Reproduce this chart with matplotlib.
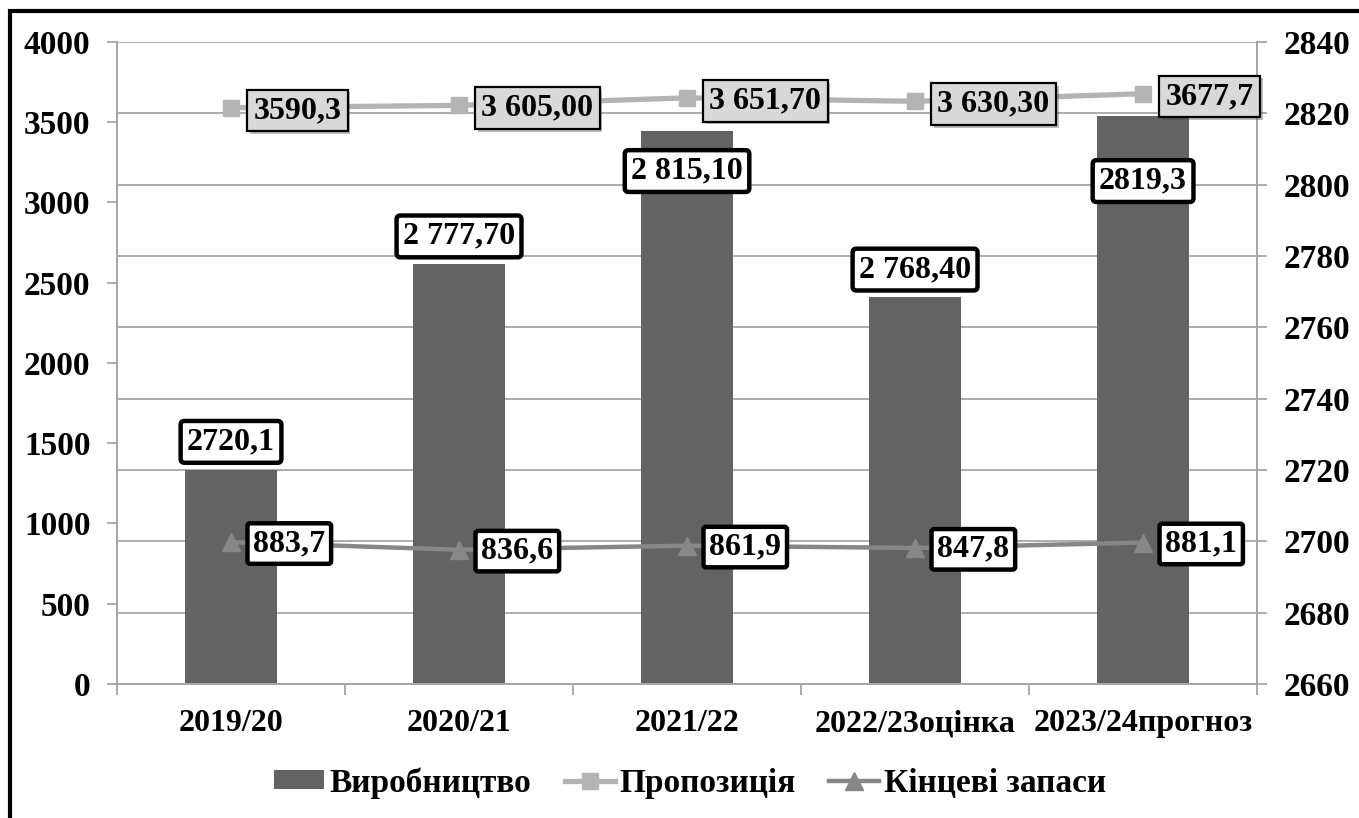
import matplotlib.pyplot as plt
import matplotlib.patheffects as pe
from matplotlib.patches import Patch, Rectangle
from matplotlib.lines import Line2D
from matplotlib.ticker import MultipleLocator, FixedLocator

# ------------------------------------------------------------------
# data
# ------------------------------------------------------------------
seasons = ['2019/20', '2020/21', '2021/22', '2022/23оцінка', '2023/24прогноз']
production = [2720.1, 2777.7, 2815.1, 2768.4, 2819.3]      # right axis
supply = [3590.3, 3605.0, 3651.7, 3630.3, 3677.7]          # left axis
end_stocks = [883.7, 836.6, 861.9, 847.8, 881.1]           # left axis

production_labels = ['2720,1', '2 777,70', '2 815,10', '2 768,40', '2819,3']
supply_labels = ['3590,3', '3 605,00', '3 651,70', '3 630,30', '3677,7']
stocks_labels = ['883,7', '836,6', '861,9', '847,8', '881,1']

# vertical offset (points) of each production label from the bar top
prod_label_dy = [20, 20, -29, 20, -47]

# ------------------------------------------------------------------
FONT = 'Liberation Serif'
plt.rcParams['font.family'] = [FONT, 'DejaVu Serif']
plt.rcParams['font.weight'] = 'bold'

BAR_C = '#636363'
SUP_C = '#b4b4b4'
STK_C = '#878787'
GRID_C = '#a6a6a6'
FS = 23

fig = plt.figure(figsize=(13.59, 8.18), dpi=100)
ax2 = fig.add_axes([0.0861, 0.1638, 0.8389, 0.7849])   # bars, right scale
ax = ax2.twinx()                                         # lines, left scale
ax.yaxis.tick_left()
ax.yaxis.set_label_position('left')
ax2.yaxis.tick_right()
ax2.yaxis.set_label_position('right')
ax.set_zorder(2)
ax.patch.set_visible(False)

x = list(range(len(seasons)))

# bars
ax2.bar(x, production, width=0.4, color=BAR_C, zorder=2)
ax2.set_ylim(2660, 2840)
ax2.yaxis.set_major_locator(MultipleLocator(20))
ax2.set_xlim(-0.5, 4.5)
ax2.grid(axis='y', color=GRID_C, lw=1.3)
ax2.set_axisbelow(True)

# lines
ax.plot(x, supply, color=SUP_C, lw=3.8, marker='s', ms=12, zorder=3)
ax.plot(x, end_stocks, color=STK_C, lw=3.2, marker='^', ms=13, zorder=3)
ax.set_ylim(0, 4000)
ax.yaxis.set_major_locator(MultipleLocator(500))

# spines / ticks
for a in (ax, ax2):
    for s in a.spines.values():
        s.set_color(GRID_C)
        s.set_linewidth(1.3)
    a.spines['top'].set_visible(False)

ax.tick_params(axis='y', left=True, right=False, length=7, width=1.3,
               color=GRID_C, pad=12, labelsize=24)
ax2.tick_params(axis='y', right=True, left=False, length=7, width=1.3,
                color=GRID_C, pad=12, labelsize=24)
ax.tick_params(axis='x', which='both', bottom=False, labelbottom=False)

ax2.set_xticks(x)
ax2.set_xticklabels(seasons)
ax2.xaxis.set_minor_locator(FixedLocator([-0.5, 0.5, 1.5, 2.5, 3.5, 4.5]))
ax2.tick_params(axis='x', which='major', length=0, pad=18, labelsize=FS)
ax2.tick_params(axis='x', which='minor', length=8, width=1.3, color=GRID_C)
for t in ax.get_yticklabels() + ax2.get_yticklabels() + ax2.get_xticklabels():
    t.set_fontweight('bold')

# labels
shadow = [pe.SimplePatchShadow(offset=(2, -2), alpha=0.35), pe.Normal()]

for i, v in enumerate(production):
    ax2.annotate(production_labels[i], (i, v), xytext=(0, prod_label_dy[i]),
                 textcoords='offset points', ha='center', va='center',
                 fontsize=FS, fontweight='bold', zorder=5,
                 bbox=dict(boxstyle='round,pad=0.2,rounding_size=0.12',
                           fc='white', ec='black', lw=3.2))

for i, v in enumerate(supply):
    t = ax.annotate(supply_labels[i], (i, v), xytext=(16, -2),
                    textcoords='offset points', ha='left', va='center',
                    fontsize=FS, fontweight='bold', zorder=6,
                    bbox=dict(boxstyle='square,pad=0.2',
                              fc='#d9d9d9', ec='black', lw=1.6))
    t.get_bbox_patch().set_path_effects(shadow)

for i, v in enumerate(end_stocks):
    ax.annotate(stocks_labels[i], (i, v), xytext=(16, -1),
                textcoords='offset points', ha='left', va='center',
                fontsize=FS, fontweight='bold', zorder=6,
                bbox=dict(boxstyle='round,pad=0.18,rounding_size=0.08',
                          fc='white', ec='black', lw=3.2))

# legend
handles = [
    Patch(facecolor=BAR_C, edgecolor='none', label='Виробництво'),
    Line2D([], [], color=SUP_C, lw=3.8, marker='s', ms=12, label='Пропозиція'),
    Line2D([], [], color=STK_C, lw=3.2, marker='^', ms=13, label='Кінцеві запаси'),
]
fig.legend(handles=handles, loc='center', bbox_to_anchor=(0.508, 0.043),
           ncol=3, frameon=False, prop={'family': FONT, 'weight': 'bold', 'size': 24},
           handlelength=1.5, handleheight=0.5, handletextpad=0.15,
           columnspacing=1.0)

# outer frame (cut at right and bottom)
fig.add_artist(Rectangle((0.0070, -0.05), 1.2, 1.0366, transform=fig.transFigure,
                         fill=False, ec='black', lw=3, clip_on=False))

fig.savefig('out.png', dpi=100)
